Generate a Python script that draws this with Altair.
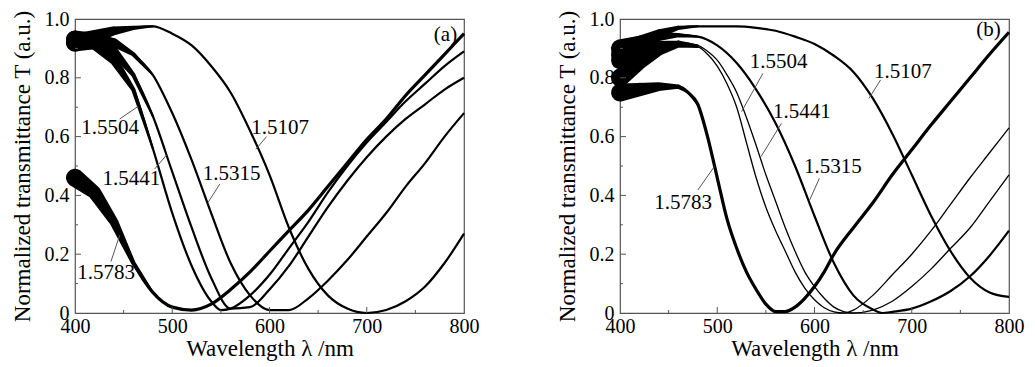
import altair as alt
import pandas as pd

# ---------------- data ----------------
grid20 = [400, 420, 440, 460, 480, 500, 520, 540, 560, 580, 600,
          620, 640, 660, 680, 700, 720, 740, 760, 780, 800]

# Panel (a)
a_lam_5107 = grid20
a_T_5107 = [0.92, 0.94, 0.96, 0.97, 0.975, 0.95, 0.91, 0.84, 0.75, 0.62, 0.47,
            0.29, 0.15, 0.06, 0.015, 0.0, 0.01, 0.04, 0.09, 0.17, 0.27]
a_lam_5315 = grid20
a_T_5315 = [0.93, 0.93, 0.92, 0.88, 0.81, 0.68, 0.52, 0.34, 0.17, 0.06, 0.01,
            0.01, 0.05, 0.11, 0.18, 0.26, 0.34, 0.43, 0.51, 0.60, 0.68]
a_lam_5441 = grid20
a_T_5441 = [0.92, 0.92, 0.89, 0.81, 0.67, 0.48, 0.29, 0.12, 0.015, 0.02, 0.08,
            0.16, 0.26, 0.36, 0.45, 0.53, 0.60, 0.66, 0.71, 0.76, 0.80]
a_lam_5504 = [400, 420, 440, 460, 480, 500, 520, 540, 550, 560, 580, 600,
              620, 640, 660, 680, 700, 720, 740, 760, 780, 800]
a_T_5504 = [0.93, 0.92, 0.86, 0.76, 0.56, 0.34, 0.16, 0.04, 0.01, 0.015, 0.06, 0.13,
            0.22, 0.31, 0.41, 0.50, 0.58, 0.65, 0.72, 0.78, 0.84, 0.89]
a_lam_5783 = grid20
a_T_5783 = [0.46, 0.41, 0.31, 0.17, 0.07, 0.02, 0.01, 0.03, 0.08, 0.14, 0.21,
            0.28, 0.35, 0.43, 0.51, 0.59, 0.66, 0.74, 0.81, 0.88, 0.95]

a_label_text = ["1.5504", "1.5441", "1.5315", "1.5107", "1.5783"]
a_label_lam = [436, 458, 561, 611, 432]
a_label_T = [0.63, 0.456, 0.472, 0.63, 0.136]
a_lead_lam1 = [465, 494, 537, 586, 446]
a_lead_T1 = [0.703, 0.537, 0.377, 0.557, 0.265]
a_lead_lam2 = [446, 482, 549, 597, 437]
a_lead_T2 = [0.66, 0.49, 0.439, 0.60, 0.175]

# Panel (b)
b_lam_5107 = grid20
b_T_5107 = [0.88, 0.92, 0.95, 0.97, 0.975, 0.975, 0.975, 0.97, 0.96, 0.94, 0.915,
            0.875, 0.82, 0.73, 0.61, 0.47, 0.33, 0.21, 0.12, 0.07, 0.055]
b_lam_5315 = [400, 420, 440, 460, 480, 500, 520, 540, 560, 580, 600, 620, 640,
              660, 670, 680, 700, 720, 740, 760, 780, 800]
b_T_5315 = [0.90, 0.92, 0.94, 0.945, 0.94, 0.91, 0.85, 0.76, 0.645, 0.50, 0.33, 0.17, 0.06,
            0.012, 0.0, 0.004, 0.015, 0.04, 0.075, 0.125, 0.195, 0.28]
b_lam_5441 = [400, 420, 440, 460, 480, 490, 500, 510, 520, 530, 540, 550, 560, 570,
              580, 590, 600, 610, 620, 630, 640, 660, 680, 700, 720, 740, 760, 780, 800]
b_T_5441 = [0.86, 0.89, 0.91, 0.92, 0.91, 0.89, 0.86, 0.81, 0.75, 0.665, 0.57, 0.47, 0.38, 0.29,
            0.21, 0.14, 0.09, 0.05, 0.02, 0.005, 0.0, 0.01, 0.04, 0.09, 0.15, 0.22, 0.29, 0.38, 0.47]
b_lam_5504 = [400, 420, 440, 460, 480, 490, 500, 510, 520, 530, 540, 550, 560, 570,
              580, 590, 600, 610, 620, 630, 640, 660, 680, 700, 720, 740, 760, 780, 800]
b_T_5504 = [0.80, 0.85, 0.89, 0.91, 0.905, 0.88, 0.84, 0.78, 0.70, 0.58, 0.46, 0.36, 0.28, 0.21,
            0.14, 0.085, 0.045, 0.018, 0.004, 0.0, 0.01, 0.06, 0.13, 0.20, 0.28, 0.37, 0.46, 0.545, 0.63]
b_lam_5783 = [400, 420, 440, 460, 470, 480, 490, 500, 510, 520, 530, 540, 550, 560,
              570, 580, 590, 600, 610, 620, 640, 660, 680, 700, 720, 740, 760, 780, 800]
b_T_5783 = [0.75, 0.76, 0.77, 0.77, 0.75, 0.71, 0.60, 0.46, 0.32, 0.22, 0.14, 0.08, 0.03, 0.005,
            0.005, 0.02, 0.05, 0.09, 0.14, 0.20, 0.29, 0.375, 0.47, 0.555, 0.64, 0.72, 0.80, 0.88, 0.955]

b_label_text = ["1.5504", "1.5441", "1.5315", "1.5107", "1.5783"]
b_label_lam = [563, 587, 619, 691, 465]
b_label_T = [0.855, 0.685, 0.498, 0.821, 0.373]
b_lead_lam1 = [525, 545, 595, 656, 497]
b_lead_T1 = [0.685, 0.532, 0.384, 0.73, 0.498]
b_lead_lam2 = [547, 566, 605, 668, 480]
b_lead_T2 = [0.815, 0.645, 0.458, 0.793, 0.418]

panel_tag = ["(a)", "(b)"]
panel_tag_lam = [781, 779]
panel_tag_T = [0.944, 0.963]

x_major = [400, 500, 600, 700, 800]
x_minor = [450, 550, 650, 750]
y_major = [0, 0.2, 0.4, 0.6, 0.8, 1.0]
y_minor = [0.1, 0.3, 0.5, 0.7, 0.9]

# ---------------- build ----------------
FONT = "Liberation Serif"
W, H = 389, 294


def long_df(pairs):
    rows = []
    for name, lams, ts in pairs:
        for l, t in zip(lams, ts):
            rows.append({"series": name, "lam": l, "T": t})
    return pd.DataFrame(rows)


def panel(curves, thin, heavy, lab_text, lab_lam, lab_T, l1, t1, l2, t2, tag, tag_lam, tag_T):
    df = long_df(curves)
    xs = alt.Scale(domain=[400, 800], nice=False, zero=False)
    ys = alt.Scale(domain=[0, 1], nice=False, zero=False)
    x = alt.X("lam:Q", scale=xs, title="Wavelength λ /nm",
              axis=alt.Axis(values=x_major, format="d"))
    y = alt.Y("T:Q", scale=ys, title="Normalized transmittance T (a.u.)",
              axis=alt.Axis(values=y_major,
                            labelExpr="datum.value == 0 ? '0' : format(datum.value, '.1f')"))
    base = alt.Chart(df).encode(x=x, y=y, detail="series:N")
    normal = [s for s, _, _ in curves if s not in thin and s not in heavy]
    mid_lines = base.transform_filter(
        alt.FieldOneOfPredicate(field="series", oneOf=normal)
    ).mark_line(color="black", strokeWidth=2.2, interpolate="monotone")
    heavy_lines = base.transform_filter(
        alt.FieldOneOfPredicate(field="series", oneOf=heavy)
    ).mark_line(color="black", strokeWidth=3.2, interpolate="monotone")
    thin_lines = base.transform_filter(
        alt.FieldOneOfPredicate(field="series", oneOf=thin)
    ).mark_line(color="black", strokeWidth=1.3, interpolate="monotone")
    # measurement-noise band at the short-wavelength end: width tapers with wavelength
    noise = base.transform_filter("datum.lam <= 480").mark_trail(color="black").encode(
        size=alt.Size("lam:Q", scale=alt.Scale(domain=[400, 470], range=[18, 2], clamp=True),
                      legend=None))

    lead_df = pd.DataFrame({"l1": l1, "t1": t1, "l2": l2, "t2": t2})
    leaders = alt.Chart(lead_df).mark_rule(color="#555555", strokeWidth=1).encode(
        x=alt.X("l1:Q", scale=xs), y=alt.Y("t1:Q", scale=ys),
        x2="l2:Q", y2="t2:Q")
    lab_df = pd.DataFrame({"text": lab_text, "lam": lab_lam, "T": lab_T})
    labels = alt.Chart(lab_df).mark_text(
        font=FONT, fontSize=21, color="black", align="center", baseline="middle"
    ).encode(x=alt.X("lam:Q", scale=xs), y=alt.Y("T:Q", scale=ys), text="text:N")
    tag_df = pd.DataFrame({"text": [tag], "lam": [tag_lam], "T": [tag_T]})
    tags = alt.Chart(tag_df).mark_text(
        font=FONT, fontSize=21, color="black", align="center", baseline="middle"
    ).encode(x=alt.X("lam:Q", scale=xs), y=alt.Y("T:Q", scale=ys), text="text:N")

    xmaj = alt.Chart(pd.DataFrame({"v": x_major[1:-1]})).mark_rule(color="#555555").encode(
        x=alt.X("v:Q", scale=xs), y=alt.value(H), y2=alt.value(H - 6))
    xmin = alt.Chart(pd.DataFrame({"v": x_minor})).mark_rule(color="#555555").encode(
        x=alt.X("v:Q", scale=xs), y=alt.value(H), y2=alt.value(H - 3))
    ymaj = alt.Chart(pd.DataFrame({"v": y_major[1:-1]})).mark_rule(color="#555555").encode(
        y=alt.Y("v:Q", scale=ys), x=alt.value(0), x2=alt.value(6))
    ymin = alt.Chart(pd.DataFrame({"v": y_minor})).mark_rule(color="#555555").encode(
        y=alt.Y("v:Q", scale=ys), x=alt.value(0), x2=alt.value(3))

    return alt.layer(noise, mid_lines, heavy_lines, thin_lines, leaders, labels, tags,
                     xmaj, xmin, ymaj, ymin).properties(width=W, height=H)


pa = panel([("1.5107", a_lam_5107, a_T_5107), ("1.5315", a_lam_5315, a_T_5315),
            ("1.5441", a_lam_5441, a_T_5441), ("1.5504", a_lam_5504, a_T_5504),
            ("1.5783", a_lam_5783, a_T_5783)], [], ["1.5783"],
           a_label_text, a_label_lam, a_label_T,
           a_lead_lam1, a_lead_T1, a_lead_lam2, a_lead_T2,
           panel_tag[0], panel_tag_lam[0], panel_tag_T[0])
pb = panel([("1.5107", b_lam_5107, b_T_5107), ("1.5315", b_lam_5315, b_T_5315),
            ("1.5441", b_lam_5441, b_T_5441), ("1.5504", b_lam_5504, b_T_5504),
            ("1.5783", b_lam_5783, b_T_5783)], ["1.5441", "1.5504"], ["1.5783"],
           b_label_text, b_label_lam, b_label_T,
           b_lead_lam1, b_lead_T1, b_lead_lam2, b_lead_T2,
           panel_tag[1], panel_tag_lam[1], panel_tag_T[1])

chart = alt.hconcat(pa, pb, spacing=75).properties(
    padding={"left": 2, "top": 0, "right": 0, "bottom": 0},
    background="white",
).configure_view(
    stroke="#555555", strokeWidth=1.2
).configure_axis(
    labelFont=FONT, labelFontSize=20, labelColor="black", labelFlush=False,
    titleFont=FONT, titleFontSize=23, titleColor="black", titleFontWeight="normal",
    domain=False, ticks=False, grid=False, labelPadding=6,
).configure_axisX(
    labelPadding=3, titlePadding=1
).configure_axisY(
    titlePadding=10
)

chart.save("out.html", embed_options={"renderer": "svg", "actions": False})
